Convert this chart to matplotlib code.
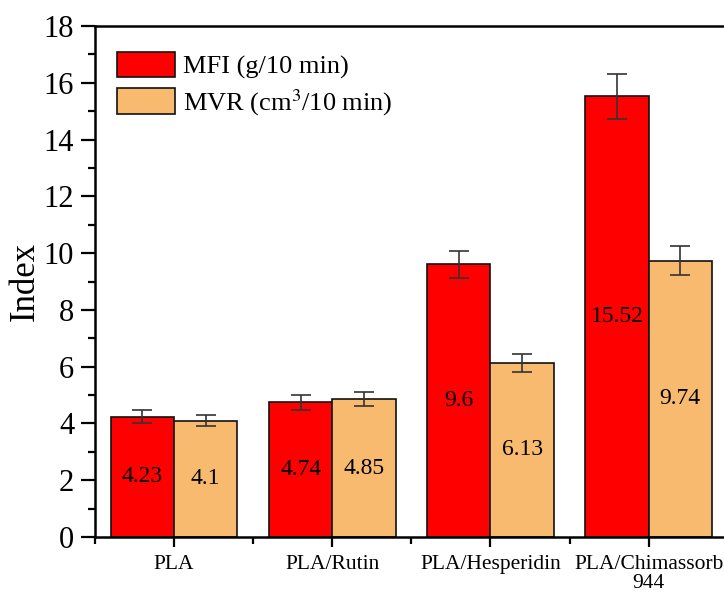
import numpy as np
import matplotlib.pyplot as plt
from matplotlib.ticker import MultipleLocator, FixedLocator

plt.rcParams['font.family'] = ['Liberation Serif', 'DejaVu Serif']
plt.rcParams['mathtext.fontset'] = 'stix'

# Melt flow data for each sample
samples = ['PLA', 'PLA/Rutin', 'PLA/Hesperidin', 'PLA/Chimassorb\n944']
mfi = [4.23, 4.74, 9.6, 15.52]
mfi_err = [0.23, 0.25, 0.47, 0.78]
mvr = [4.1, 4.85, 6.13, 9.74]
mvr_err = [0.2, 0.25, 0.31, 0.5]

fig = plt.figure(figsize=(7.24, 5.98), dpi=100)
ax = fig.add_axes([0.1312, 0.102, 0.874, 0.8545])

x = np.arange(len(samples))
w = 0.4
err_kw = dict(ecolor='#333333', elinewidth=1.2, capsize=7, capthick=1.2)

b1 = ax.bar(x - w / 2, mfi, w, yerr=mfi_err, color='#FF0000', edgecolor='#111111',
            linewidth=1.2, error_kw=err_kw, label='MFI (g/10 min)')
b2 = ax.bar(x + w / 2, mvr, w, yerr=mvr_err, color='#F8BA6F', edgecolor='#111111',
            linewidth=1.2, error_kw=err_kw, label='MVR (cm$^3$/10 min)')

# value labels in the middle of each bar
for bars, vals in ((b1, mfi), (b2, mvr)):
    for bar, v in zip(bars, vals):
        ax.text(bar.get_x() + bar.get_width() / 2, v / 2, f'{v:g}',
                ha='center', va='center', fontsize=17)

ax.set_xlim(-0.5, 3.5)
ax.set_ylim(0, 18)
ax.set_xticks(x)
ax.set_xticklabels(samples, fontsize=15.5, linespacing=1.0)
ax.xaxis.set_minor_locator(FixedLocator([-0.5, 0.5, 1.5, 2.5]))
ax.yaxis.set_major_locator(MultipleLocator(2))
ax.yaxis.set_minor_locator(MultipleLocator(1))
ax.tick_params(axis='y', which='major', labelsize=22, length=10, width=1.6, pad=5)
ax.tick_params(axis='y', which='minor', length=5, width=1.6)
ax.tick_params(axis='x', which='major', length=7, width=1.6, pad=6)
ax.tick_params(axis='x', which='minor', length=5, width=1.6)
for s in ax.spines.values():
    s.set_linewidth(1.8)

ax.set_ylabel('Index', fontsize=25)
ax.yaxis.set_label_coords(-0.084, 0.5)

ax.legend(loc='upper left', bbox_to_anchor=(22 / 633, 1 - 26 / 511), frameon=False,
          fontsize=19, handlelength=2.2, handleheight=1.1, handletextpad=0.3,
          labelspacing=0.3, borderaxespad=0, borderpad=0)

fig.savefig('out.png', dpi=100)
